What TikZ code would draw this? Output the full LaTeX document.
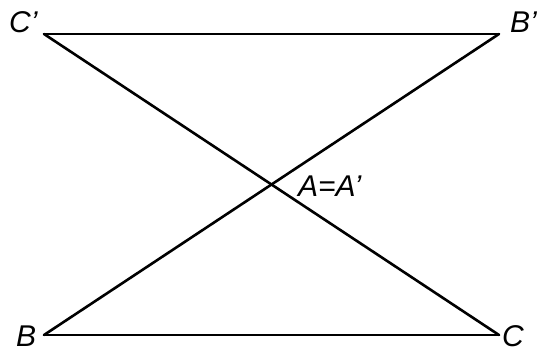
\documentclass[tikz,border=0pt]{standalone}
\usepackage{fontspec}
\setmainfont{Liberation Sans}
\begin{document}
\begin{tikzpicture}[x=1pt,y=-1pt,
  edge/.style={line width=2.6pt,line cap=round,line join=round},
  lbl/.style={inner sep=0pt,anchor=base west,font=\fontsize{30}{32}\selectfont\itshape}]
\useasboundingbox (0,0) rectangle (544,352);
\coordinate (Cp) at (44,34);
\coordinate (Bp) at (499,34);
\coordinate (B) at (44,335);
\coordinate (C) at (499,335);
\draw[edge] (Cp) -- (Bp);
\draw[edge] (B) -- (C);
\draw[edge] (Cp) -- (C);
\draw[edge] (Bp) -- (B);
\node[lbl] (lCp) at (9,33) {C’};
\node[lbl] (lBp) at (510,33) {B’};
\node[lbl] (lB) at (16,347) {B};
\node[lbl] (lC) at (502,347) {C};
\node[lbl] (lA) at (298,197) {A=A’};
\end{tikzpicture}
\end{document}
